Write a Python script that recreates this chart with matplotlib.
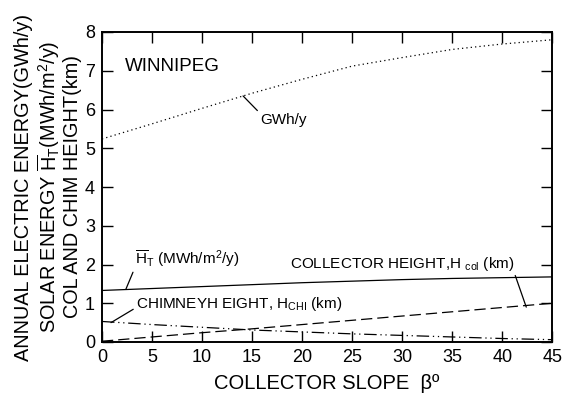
import numpy as np
import matplotlib
matplotlib.use('Agg')
import matplotlib.pyplot as plt

plt.rcParams['font.family'] = ['Liberation Sans', 'DejaVu Sans']
plt.rcParams['mathtext.fontset'] = 'custom'
plt.rcParams['mathtext.rm'] = 'Liberation Sans'
plt.rcParams['mathtext.it'] = 'Liberation Sans'

# collector slope (deg)
slope = [0, 5, 10, 15, 20, 25, 30, 35, 40, 45]
gwh = [5.24, 5.63, 6.03, 6.42, 6.78, 7.12, 7.34, 7.55, 7.69, 7.80]
h_t = [1.33, 1.38, 1.43, 1.48, 1.53, 1.57, 1.61, 1.64, 1.66, 1.68]
h_col = [0.02, 0.13, 0.24, 0.34, 0.45, 0.56, 0.67, 0.78, 0.89, 1.0]
h_chi = [0.53, 0.45, 0.38, 0.31, 0.26, 0.21, 0.17, 0.13, 0.09, 0.06]

fig = plt.figure(figsize=(5.65, 4.0), dpi=100)
ax = fig.add_axes([0.1805, 0.145, 0.797, 0.775])

ax.plot(slope, gwh, color='black', lw=0.9, ls=(0, (1, 2.5)))
ax.plot(slope, h_t, color='black', lw=0.9)
ax.plot(slope, h_col, color='black', lw=0.9, ls=(0, (9, 4)))
ax.plot(slope, h_chi, color='black', lw=0.9, ls=(0, (10, 3, 1, 3, 1, 3)))

ax.set_xlim(0, 45)
ax.set_ylim(0, 8)
ax.set_xticks(range(0, 46, 5))
ax.set_yticks(range(0, 9))
ax.tick_params(direction='in', length=8, width=1, top=True, right=True,
               labelsize=13, pad=5)
for s in ax.spines.values():
    s.set_linewidth(1.4)

ax.set_xlabel('COLLECTOR SLOPE  \u03b2\u00ba', fontsize=14.5, labelpad=6)
ax.set_ylabel('ANNUAL ELECTRIC ENERGY(GWh/y)\n'
              r'SOLAR ENERGY $\overline{\mathrm{H}}_\mathrm{T}$(MWh/m$^2$/y)' '\n'
              'COL AND CHIM HEIGHT(km)',
              fontsize=14.3, linespacing=1.08, labelpad=2)

ax.text(2.3, 7.1, 'WINNIPEG', fontsize=13.5, va='center')

ax.annotate('GWh/y', xy=(14.1, 6.35), xytext=(15.8, 5.72), fontsize=11,
            va='center', arrowprops=dict(arrowstyle='-', lw=0.9, shrinkA=0,
                                          shrinkB=0, relpos=(0, 1)))
ax.annotate(r'$\overline{\mathrm{H}}_\mathrm{T}$ (MWh/m$^2$/y)', xy=(2.4, 1.37),
            xytext=(3.3, 2.14), fontsize=11, va='center',
            arrowprops=dict(arrowstyle='-', lw=0.9, shrinkA=0, shrinkB=0,
                            relpos=(0, 0.1)))
ax.annotate(r'CHIMNEYH EIGHT, H$_\mathrm{CHI}$ (km)', xy=(0.9, 0.5),
            xytext=(3.4, 0.98), fontsize=11, va='center',
            arrowprops=dict(arrowstyle='-', lw=0.9, shrinkA=0, shrinkB=0,
                            relpos=(0, 0.3)))
ax.annotate(r'COLLECTOR HEIGHT,H $_\mathrm{col}$ (km)', xy=(42.4, 0.9),
            xytext=(41.2, 2.02), fontsize=11, va='center', ha='right',
            arrowprops=dict(arrowstyle='-', lw=0.9, shrinkA=0, shrinkB=0,
                            relpos=(1.0, 0.0)))

fig.savefig('out.png', dpi=100)
